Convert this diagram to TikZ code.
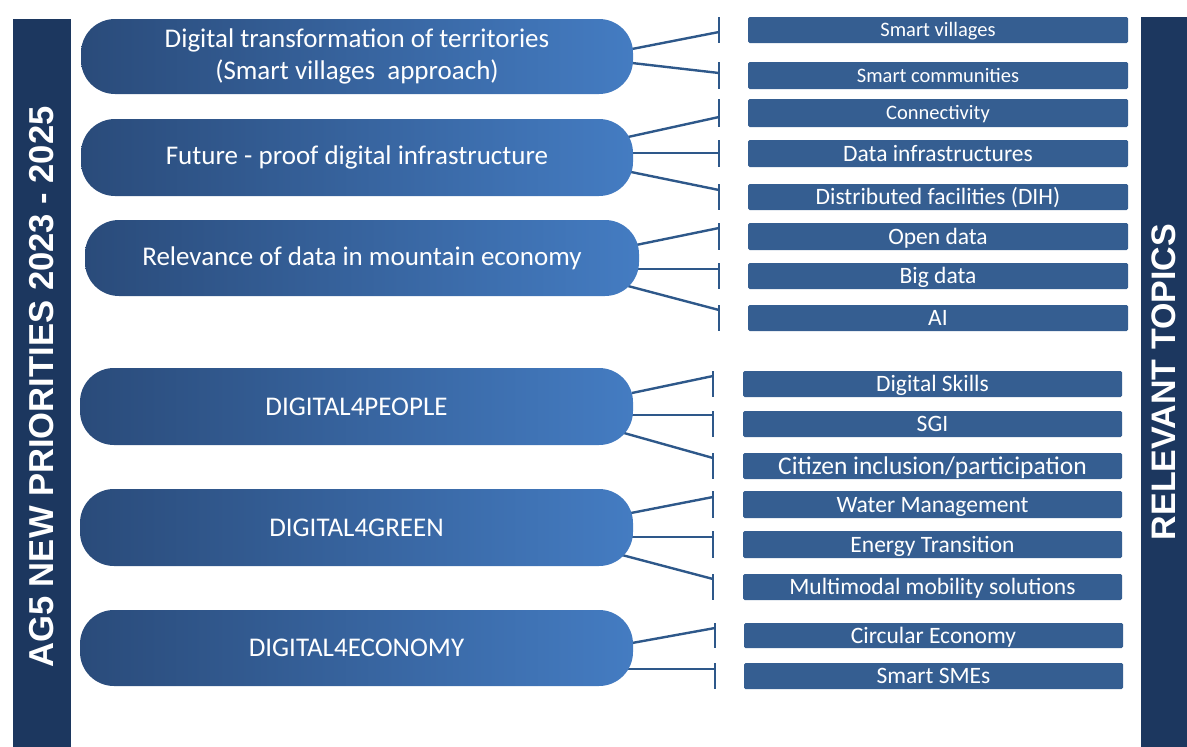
\documentclass[tikz,border=0pt]{standalone}
\usepackage{fontspec}
\setmainfont{Carlito}
\newfontfamily\barfont{Liberation Sans}
\definecolor{barblue}{RGB}{28,55,95}
\definecolor{boxblue}{RGB}{53,94,145}
\definecolor{pillL}{RGB}{42,75,122}
\definecolor{pillR}{RGB}{68,124,194}
\definecolor{linkblue}{RGB}{46,88,138}
\begin{document}
\begin{tikzpicture}[x=1pt,y=-1pt,
  pill/.style={rectangle, rounded corners=34pt, left color=pillL, right color=pillR,
    text=white, font=\fontsize{27}{32}\selectfont, align=center, inner sep=0pt},
  topic/.style={rectangle, rounded corners=1.5pt, fill=boxblue, text=white,
    font=\fontsize{23.5}{26}\selectfont, inner sep=0pt, minimum height=26pt,
    text height=16pt, text depth=0.8pt},
  topicsm/.style={topic, font=\fontsize{20.5}{24}\selectfont, text height=14pt},
  topicbig/.style={topic, font=\fontsize{25.5}{28}\selectfont, text height=17.2pt},
  link/.style={draw=linkblue, line width=2.4pt},
  tickline/.style={draw=linkblue, line width=2.6pt},
  sidebar/.style={rectangle, fill=barblue, draw=none, inner sep=0pt},
  sidetext/.style={rotate=90, text=white, font=\barfont\bfseries\fontsize{34}{40}\selectfont}]
\useasboundingbox (0,0) rectangle (1187,747);

% side bars
\node[sidebar, minimum width=58pt, minimum height=728pt] (lbar) at (42,383) {};
\node[sidetext, font=\barfont\bfseries\fontsize{34.6}{40}\selectfont] (ltext) at (42,387) {AG5 NEW PRIORITIES 2023 - 2025};
\node[sidebar, minimum width=46pt, minimum height=730pt] (rbar) at (1164,382) {};
\node[sidetext] (rtext) at (1164,382) {RELEVANT TOPICS};

% topic boxes
\begin{scope}[every node/.append style={minimum width=380pt}]
\node[topicsm, minimum height=26pt] (t1) at (938,30) {Smart villages};
\node[topicsm, minimum height=27pt] (t2) at (938,75.5) {Smart communities};
\node[topicsm, minimum height=28pt] (t3) at (938,113) {Connectivity};
\node[topic, minimum height=27pt] (t4) at (938,153.5) {Data infrastructures};
\node[topic] (t5) at (938,197) {Distributed facilities (DIH)};
\node[topic, minimum height=27pt] (t6) at (938,236.5) {Open data};
\node[topic] (t7) at (938,276) {Big data};
\node[topic] (t8) at (938,318) {AI};
\end{scope}
\begin{scope}[every node/.append style={minimum width=379pt}]
\node[topic] (t9) at (932.5,384) {Digital Skills};
\node[topic] (t10) at (932.5,424) {SGI};
\node[topicbig] (t11) at (932.5,466) {Citizen inclusion/participation};
\node[topic, minimum height=27pt] (t12) at (932.5,504.5) {Water Management};
\node[topic, minimum height=27pt] (t13) at (932.5,544.5) {Energy Transition};
\node[topic] (t14) at (932.5,587) {Multimodal mobility solutions};
\node[topic, minimum height=25pt] (t15) at (933.5,635.5) {Circular Economy};
\node[topic] (t16) at (933.5,676) {Smart SMEs};
\end{scope}

% tick marks
\foreach \x/\a/\b in {719/17/43, 719/62/89, 719/99/127, 719/140/167, 719/184/210,
  719/223/250, 719/263/289, 719/305/331, 713/371/397, 713/411/437, 713/453/479,
  713/491/518, 713/531/558, 713/574/600, 715/623/648, 715/663/689}
  \draw[tickline] (\x,\a) -- (\x,\b);

% connector end points
\coordinate (s1) at (632,49);   \coordinate (e1) at (719,32);
\coordinate (s2) at (632,63);   \coordinate (e2) at (719,73);
\coordinate (s3) at (628,137);  \coordinate (e3) at (719,117);
\coordinate (s4) at (632,153);  \coordinate (e4) at (719,153);
\coordinate (s5) at (631,172);  \coordinate (e5) at (719,190);
\coordinate (s6) at (636,245);  \coordinate (e6) at (719,228);
\coordinate (s7) at (638,269);  \coordinate (e7) at (719,269);
\coordinate (s8) at (628,286);  \coordinate (e8) at (719,310);
\coordinate (s9) at (632,393);  \coordinate (e9) at (713,376);
\coordinate (s10) at (632,415); \coordinate (e10) at (713,415);
\coordinate (s11) at (624,433); \coordinate (e11) at (713,458);
\coordinate (s12) at (631,513); \coordinate (e12) at (713,497);
\coordinate (s13) at (632,537); \coordinate (e13) at (713,537);
\coordinate (s14) at (622,555); \coordinate (e14) at (713,579);
\coordinate (s15) at (632,643); \coordinate (e15) at (715,628);
\coordinate (s16) at (628,669); \coordinate (e16) at (715,669);
\foreach \i in {1,...,16} \draw[link] (s\i) -- (e\i);

% pills
\node[pill, minimum width=552pt, minimum height=75pt] (p1) at (357,56.5)
  {Digital transformation of territories\\(Smart villages~ approach)};
\node[pill, minimum width=552pt, minimum height=77pt] (p2) at (357,157.5)
  {Future - proof digital infrastructure};
\node[pill, minimum width=554pt, minimum height=76pt] (p3) at (362,258)
  {Relevance of data in mountain economy};
\node[pill, minimum width=553pt, minimum height=77pt] (p4) at (356.5,406.5)
  {DIGITAL4PEOPLE};
\node[pill, minimum width=553pt, minimum height=77pt] (p5) at (356.5,527.5)
  {DIGITAL4GREEN};
\node[pill, minimum width=553pt, minimum height=76pt] (p6) at (356.5,648)
  {DIGITAL4ECONOMY};
\end{tikzpicture}
\end{document}
